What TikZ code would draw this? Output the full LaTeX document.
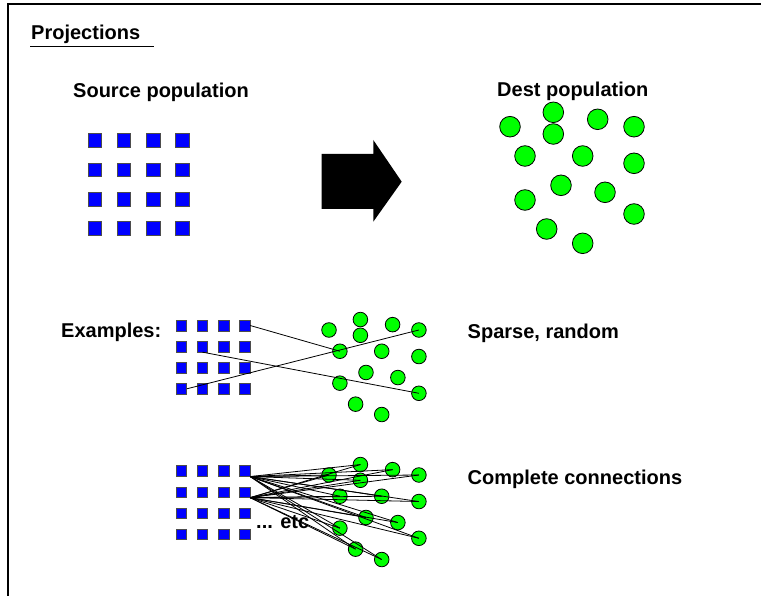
\documentclass[tikz,border=0pt]{standalone}
\usepackage{fontspec}
\setmainfont{Liberation Sans}
\begin{document}
\begin{tikzpicture}[x=1pt,y=-1pt,
  lbl/.style={anchor=base west, inner sep=0, font=\fontsize{20}{24}\selectfont\bfseries},
  bigsq/.style={draw=black!70, line width=0.5pt, fill=blue, minimum size=13.5pt, inner sep=0},
  smallsq/.style={bigsq, minimum size=10.6pt},
  bigdot/.style={circle, draw=black, line width=0.8pt, fill=green, minimum size=20.6pt, inner sep=0},
  smalldot/.style={bigdot, minimum size=14.6pt},
  link/.style={black, line width=0.8pt}]
\useasboundingbox (0,0) rectangle (761,596);
% frame
\draw[line width=1.3pt] (8,596) -- (8,4) -- (761,4);

% headings
\node[lbl] (title) at (31,39.5) {Projections};
\draw[line width=0.9pt] (30,46.7) -- (154,46.7);
\node[lbl] (src) at (73,97.3) {Source population};
\node[lbl] (dst) at (497,97) {Dest population};
\node[lbl] (ex) at (61,337.5) {Examples:};
\node[lbl] (sparse) at (467.5,338.3) {Sparse, random};
\node[lbl] (complete) at (467.5,484) {Complete connections};

% source grids: large one, sparse example, complete example
\foreach \r in {1,...,4}{\foreach \c in {1,...,4}{
  \node[bigsq] (s-\r-\c) at ({94.5+29.3*(\c-1)},{140.5+29.3*(\r-1)}) {};
  \node[smallsq] (x-\r-\c) at ({181.3+21.1*(\c-1)},{325.5+21.1*(\r-1)}) {};
  \node[smallsq] (c-\r-\c) at ({181.3+21.1*(\c-1)},{471+21.1*(\r-1)}) {};
}}

% destination populations (same layout, scaled down for the examples)
\foreach \n/\px/\py in {1/510/126.7, 2/553.3/112.3, 3/553.3/134, 4/597.7/119.3,
    5/634/126.7, 6/525/156, 7/582.7/156, 8/634/163.3, 9/561/185.3,
    10/605/192.3, 11/525/200, 12/634/214, 13/546.7/229, 14/582.7/243.3}{
  \node[bigdot] (d\n) at (\px,\py) {};
  \begin{scope}[shift={(-40.75,238.14)},scale=0.725]
    \node[smalldot] (e\n) at (\px,\py) {};
  \end{scope}
  \begin{scope}[shift={(-40.75,383.14)},scale=0.725]
    \node[smalldot] (k\n) at (\px,\py) {};
  \end{scope}
}

% big block arrow
\fill[black] (321.7,154) -- (373.3,154) -- (373.3,140) -- (401.7,181.7)
  -- (373.3,221.7) -- (373.3,209) -- (321.7,209) -- cycle;

% sparse, random links
\draw[link] (x-1-4.east) -- (e6.center);
\draw[link] (x-2-2.south) -- (e12.center);
\draw[link] (x-4-1.east) -- (e5.center);

% complete links from two source cells
\foreach \n in {1,...,14}{
  \draw[link] (c-1-4.south east) -- (k\n.center);
  \draw[link] (c-2-4.south east) -- (k\n.center);
}
\node[lbl] (etc) at (256,528) {... etc};
\end{tikzpicture}
\end{document}
